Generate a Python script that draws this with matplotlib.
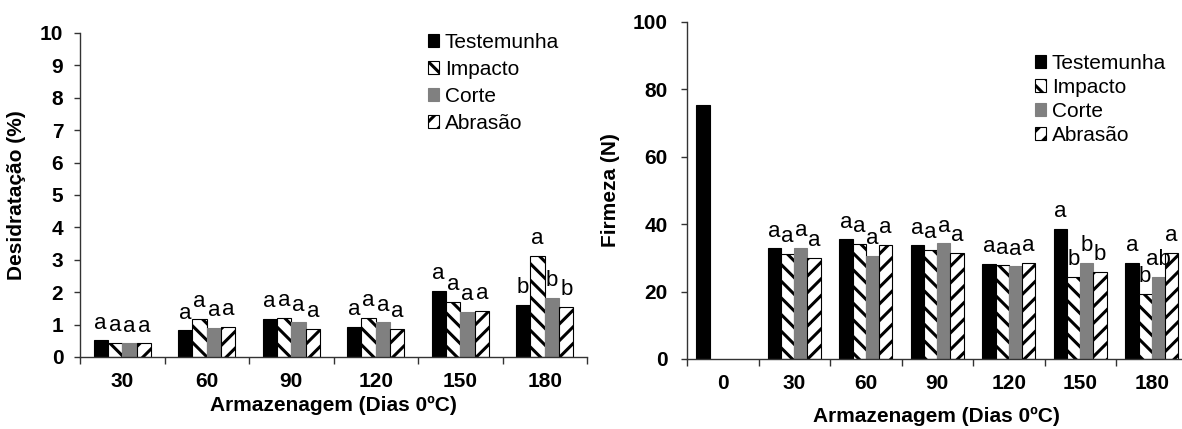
import numpy as np
import matplotlib.pyplot as plt
from matplotlib.patches import Patch

plt.rcParams['font.family'] = ['Liberation Sans', 'DejaVu Sans']
plt.rcParams['hatch.linewidth'] = 2.2
plt.rcParams['axes.linewidth'] = 1.0

series = ["Testemunha", "Impacto", "Corte", "Abrasão"]
colors = ["black", "white", "#808080", "white"]
hatches = [None, "\\\\", None, "//"]
edges = ["black", "black", "#808080", "black"]

# Desidratação (%)
des_dias = ["30", "60", "90", "120", "150", "180"]
des_testemunha = [0.51, 0.82, 1.17, 0.93, 2.04, 1.62]
des_impacto = [0.44, 1.18, 1.20, 1.20, 1.70, 3.11]
des_corte = [0.42, 0.90, 1.07, 1.07, 1.38, 1.82]
des_abrasao = [0.42, 0.94, 0.87, 0.87, 1.42, 1.55]
des_letras = [["a", "a", "a", "a"], ["a", "a", "a", "a"], ["a", "a", "a", "a"],
              ["a", "a", "a", "a"], ["a", "a", "a", "a"], ["b", "a", "b", "b"]]

# Firmeza (N)
fir_dias = ["0", "30", "60", "90", "120", "150", "180"]
fir_testemunha = [75.5, 32.8, 35.5, 33.7, 28.2, 38.7, 28.5]
fir_impacto = [np.nan, 31.2, 34.1, 32.3, 27.8, 24.3, 19.3]
fir_corte = [np.nan, 33.0, 30.5, 34.3, 27.5, 28.6, 24.3]
fir_abrasao = [np.nan, 30.1, 33.9, 31.6, 28.5, 25.9, 31.4]
fir_letras = [["", "", "", ""], ["a", "a", "a", "a"], ["a", "a", "a", "a"],
              ["a", "a", "a", "a"], ["a", "a", "a", "a"], ["a", "b", "b", "b"],
              ["a", "b", "ab", "a"]]

W, H = 1182, 429
fig = plt.figure(figsize=(W / 100, H / 100), dpi=100)


def grouped_bars(ax, cats, values, letras, width, ymax, ystep):
    n = len(cats)
    centers = np.arange(n) + 0.5
    for k in range(4):
        x = centers + (k - 1.5) * width
        bars = ax.bar(x, values[k], width, color=colors[k], hatch=hatches[k],
                      edgecolor=edges[k], linewidth=0.8)
        for i, b in enumerate(bars):
            v = values[k][i]
            if np.isnan(v) or letras[i][k] == "":
                continue
            ax.annotate(letras[i][k], (b.get_x() + b.get_width() / 2, v),
                        xytext=(0, 8.5), textcoords="offset points",
                        ha="center", va="baseline", fontsize=16)
    ax.set_xlim(0, n)
    ax.set_ylim(0, ymax)
    ax.set_yticks(np.arange(0, ymax + 0.1, ystep))
    ax.set_xticks(np.arange(n + 1))
    ax.set_xticklabels([])
    ax.set_xticks(centers, minor=True)
    ax.set_xticklabels(cats, minor=True, fontweight="bold", fontsize=15)
    ax.tick_params(axis="x", which="major", length=5, width=1, direction="out")
    ax.tick_params(axis="x", which="minor", length=0, pad=11)
    ax.tick_params(axis="y", length=4, width=1, direction="out", labelsize=15)
    for lab in ax.get_yticklabels():
        lab.set_fontweight("bold")
    for s in ["top", "right"]:
        ax.spines[s].set_visible(False)
    ax.spines["left"].set_color("#333333")
    ax.spines["bottom"].set_color("#333333")
    ax.tick_params(colors="#333333", labelcolor="black")


def legend_handles():
    return [Patch(facecolor=colors[k], hatch=hatches[k], edgecolor=edges[k],
                  linewidth=0.8, label=series[k]) for k in range(4)]


# left panel
ax1 = fig.add_axes([80 / W, 1 - 357 / H, 507 / W, 324 / H])
grouped_bars(ax1, des_dias, [des_testemunha, des_impacto, des_corte, des_abrasao],
             des_letras, 0.17, 10, 1)
ax1.tick_params(axis="y", pad=8)
ax1.legend(handles=legend_handles(), loc="upper left", bbox_to_anchor=(428 / W, 1 - 33 / H),
           bbox_transform=fig.transFigure, frameon=False, fontsize=15, borderpad=0,
           handlelength=0.55, handleheight=0.55, handletextpad=0.25, labelspacing=0.38,
           borderaxespad=0)
fig.text(17 / W, 1 - 195 / H, "Desidratação (%)", rotation=90, ha="center", va="center",
         fontsize=15, fontweight="bold")
fig.text(333 / W, 1 - 405 / H, "Armazenagem (Dias 0ºC)", ha="center", va="center",
         fontsize=15, fontweight="bold")

# right panel
ax2 = fig.add_axes([687 / W, 1 - 359 / H, 500.5 / W, 337 / H])
grouped_bars(ax2, fir_dias, [fir_testemunha, fir_impacto, fir_corte, fir_abrasao],
             fir_letras, 0.185, 100, 20)
ax2.tick_params(axis="y", pad=10)
ax2.legend(handles=legend_handles(), loc="upper left", bbox_to_anchor=(1035 / W, 1 - 54 / H),
           bbox_transform=fig.transFigure, frameon=False, fontsize=15, borderpad=0,
           handlelength=0.55, handleheight=0.55, handletextpad=0.25, labelspacing=0.24,
           borderaxespad=0)
fig.text(611 / W, 1 - 190 / H, "Firmeza (N)", rotation=90, ha="center", va="center",
         fontsize=15, fontweight="bold")
fig.text(936 / W, 1 - 416 / H, "Armazenagem (Dias 0ºC)", ha="center", va="center",
         fontsize=15, fontweight="bold")

fig.savefig("out.png", dpi=100)
